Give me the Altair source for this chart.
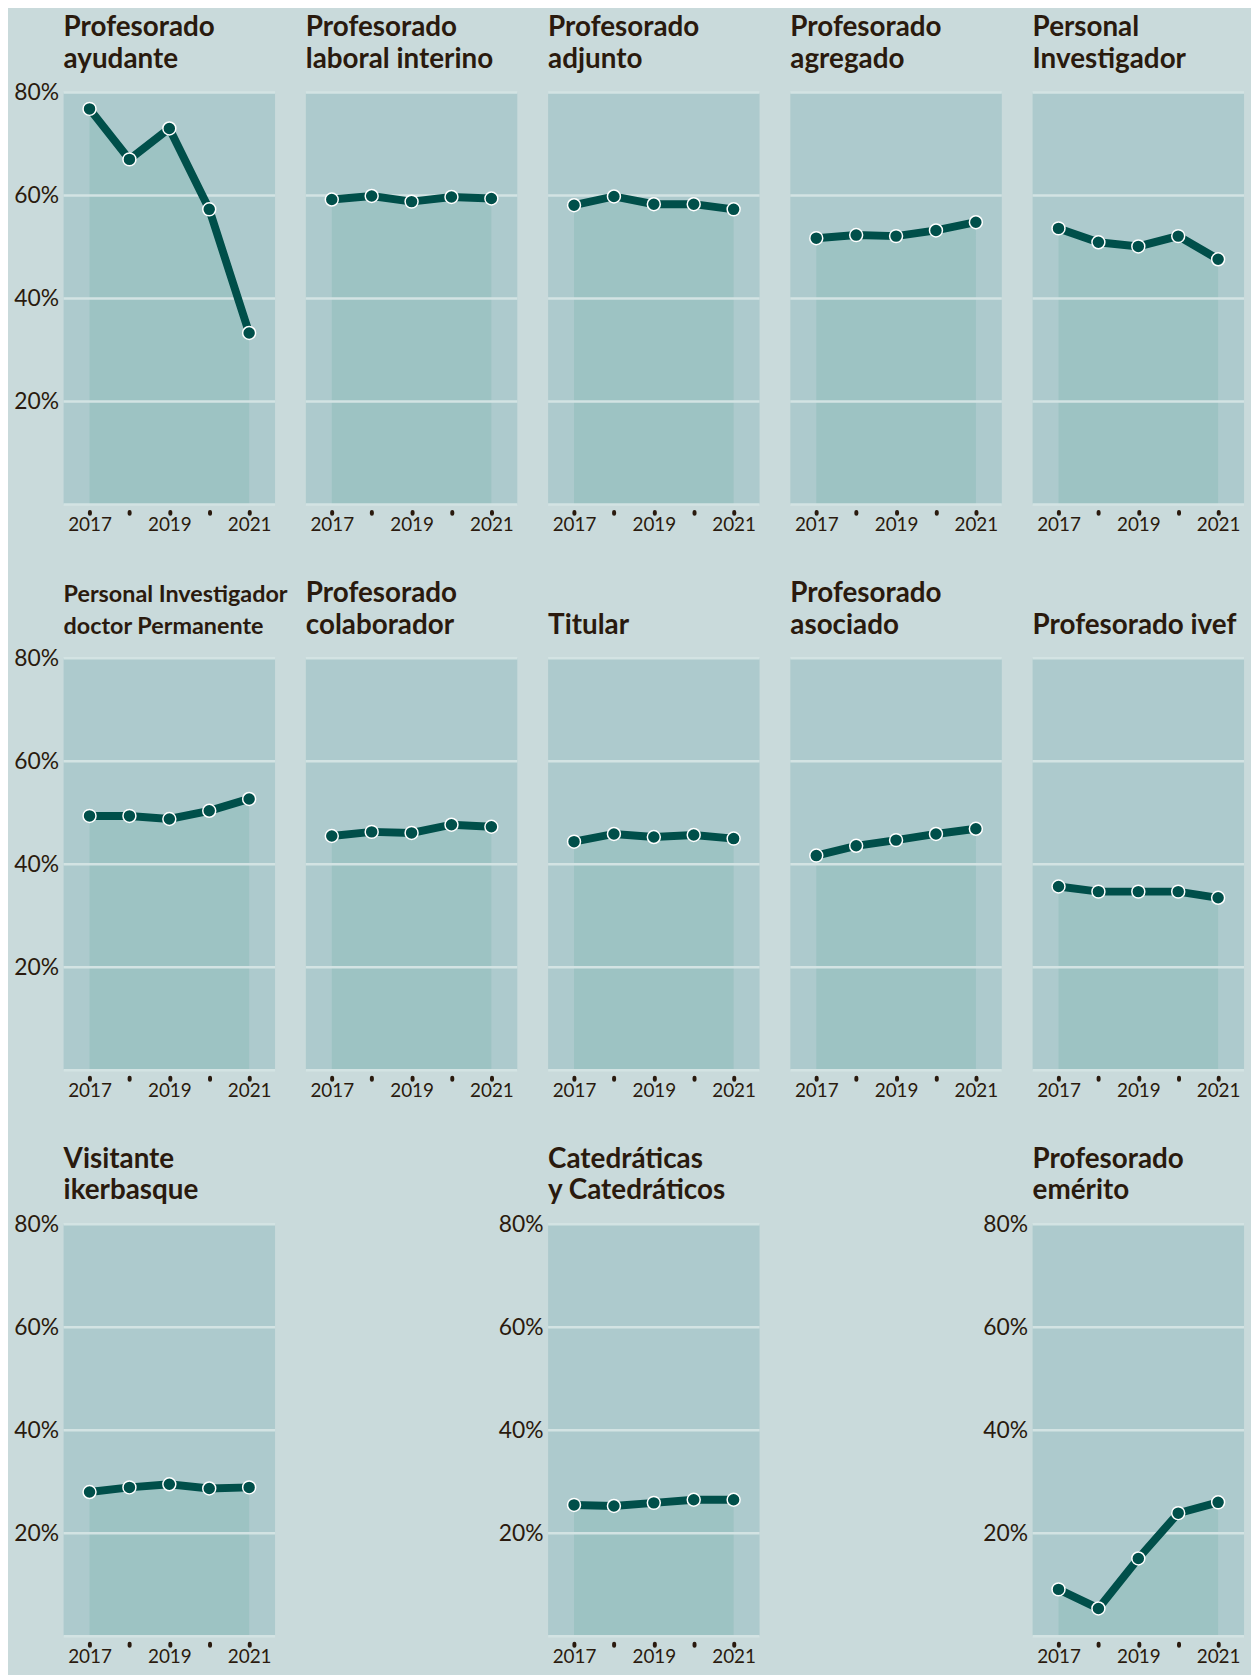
import altair as alt
import pandas as pd

FONT = "Lato"
BG = "#c9dadb"
PLOT = "#adcacd"
AREA = "#9dc3c3"
GRID = "#d3e3e3"
LINE = "#004f4a"
TXT = "#2a1a0e"

years = [2017, 2018, 2019, 2020, 2021]
grid_values = [0, 20, 40, 60, 80]

titles = [
    ["Profesorado", "ayudante"],
    ["Profesorado", "laboral interino"],
    ["Profesorado", "adjunto"],
    ["Profesorado", "agregado"],
    ["Personal", "Investigador"],
    ["Personal Investigador", "doctor Permanente"],
    ["Profesorado", "colaborador"],
    ["Titular"],
    ["Profesorado", "asociado"],
    ["Profesorado ivef"],
    ["Visitante", "ikerbasque"],
    ["Catedráticas", "y Catedráticos"],
    ["Profesorado", "emérito"],
]

ayudante = [76.8, 67.0, 73.0, 57.3, 33.3]
laboral_interino = [59.2, 59.9, 58.8, 59.7, 59.4]
adjunto = [58.1, 59.8, 58.3, 58.3, 57.3]
agregado = [51.7, 52.3, 52.1, 53.2, 54.8]
personal_investigador = [53.6, 50.9, 50.1, 52.1, 47.6]
pid_permanente = [49.4, 49.4, 48.8, 50.4, 52.7]
colaborador = [45.5, 46.3, 46.1, 47.7, 47.3]
titular = [44.4, 45.9, 45.3, 45.7, 45.0]
asociado = [41.7, 43.6, 44.7, 45.9, 46.9]
ivef = [35.7, 34.7, 34.7, 34.7, 33.5]
ikerbasque = [28.0, 28.9, 29.5, 28.7, 28.9]
catedraticos = [25.5, 25.3, 25.9, 26.5, 26.5]
emerito = [9.1, 5.4, 15.1, 23.9, 26.0]

series = [ayudante, laboral_interino, adjunto, agregado, personal_investigador,
          pid_permanente, colaborador, titular, asociado, ivef,
          ikerbasque, catedraticos, emerito]

W, H = 213, 415


def panel(title_lines, vals, show_labels, title_size=28):
    df = pd.DataFrame({"year": years, "pct": vals})
    gdf = pd.DataFrame({"pct": grid_values})
    xenc = alt.X(
        "year:Q",
        title=None,
        scale=alt.Scale(domain=[2016.35, 2021.65], nice=False, zero=False),
        axis=alt.Axis(
            values=years, format="d",
            labelExpr="datum.value % 2 == 1 ? datum.label : ''",
            domain=False, grid=False,
            ticks=True, tickSize=2, tickWidth=4, tickCap="round", tickColor=TXT,
            offset=7, labelPadding=2,
            labelFont=FONT, labelFontSize=19, labelColor=TXT,
        ),
    )
    if show_labels:
        yaxis = alt.Axis(
            values=grid_values,
            labelExpr="datum.value == 0 ? '' : datum.value + '%'",
            domain=False, grid=False, ticks=False, labelPadding=5,
            labelFont=FONT, labelFontSize=23, labelColor=TXT,
        )
    else:
        yaxis = None
    yenc = alt.Y("pct:Q", title=None,
                 scale=alt.Scale(domain=[0, 80], nice=False), axis=yaxis)

    base = alt.Chart(df).encode(x=xenc, y=yenc)
    area = base.mark_area(color=AREA, opacity=1)
    rules = alt.Chart(gdf).mark_rule(color=GRID, strokeWidth=2.5).encode(
        y=alt.Y("pct:Q", title=None, scale=alt.Scale(domain=[0, 80], nice=False), axis=yaxis)
    )
    line = base.mark_line(color=LINE, strokeWidth=8)
    pts = base.mark_point(filled=True, fill=LINE, stroke="white",
                          strokeWidth=1.5, size=170, opacity=1)

    layers = [area, rules, line, pts]
    n = len(title_lines)
    for j, txt in enumerate(title_lines):
        ypos = -25 - 32 * (n - 1 - j)
        layers.append(
            alt.Chart(pd.DataFrame({"t": [txt]})).mark_text(
                align="left", baseline="alphabetic", font=FONT,
                fontSize=title_size, fontWeight="bold", color=TXT,
            ).encode(x=alt.value(0), y=alt.value(ypos), text="t:N")
        )
    return alt.layer(*layers).properties(
        width=W, height=H,
        view=alt.ViewBackground(fill=PLOT, strokeWidth=0),
    )


def blank():
    return alt.Chart(pd.DataFrame({"a": [0]})).mark_point(opacity=0).encode(
        x=alt.X("a:Q", axis=None), y=alt.Y("a:Q", axis=None)
    ).properties(width=W, height=H)


panels = []
for i, (t, v) in enumerate(zip(titles, series)):
    show = (i % 5 == 0) or i >= 10
    size = 23.5 if i == 5 else 28
    panels.append(panel(t, v, show, size))

cells = panels[0:10] + [panels[10], blank(), panels[11], blank(), panels[12]]

chart = alt.concat(
    *cells, columns=5, spacing={"row": 155, "column": 31}, bounds="flush"
).properties(
    padding={"left": 5, "top": 0, "right": 5, "bottom": 3}
).configure(background=BG).configure_view(strokeWidth=0)

chart.save("out.html", embed_options={"renderer": "svg", "actions": False})
